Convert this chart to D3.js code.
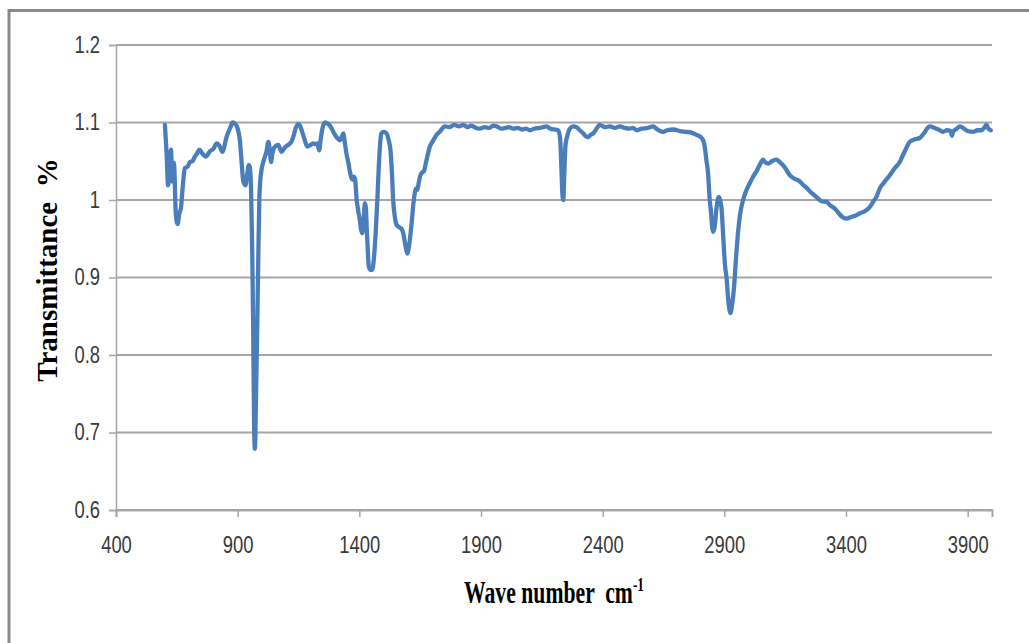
<!DOCTYPE html>
<html>
<head>
<meta charset="utf-8">
<script src="https://cdn.jsdelivr.net/npm/d3@7"></script>
<style>
  html, body { margin: 0; padding: 0; background: #fff; }
  svg { display: block; }
  .tick text { font-family: "Liberation Sans", Arial, sans-serif; font-size: 23px; fill: #3a3a3a; }
  .axis-title { white-space: pre; }
</style>
</head>
<body>
<svg id="chart" width="1029" height="643"></svg>
<script>
// FT-IR spectrum: wave number (cm-1) against transmittance
const waveNumber = [
  601, 608, 614, 620, 626, 631, 638, 646, 653, 660, 667, 675, 683, 694, 704, 714, 724, 733, 742, 755,
  769, 786, 800, 814, 825, 837, 855, 868, 879, 890, 898, 909, 916, 923, 932, 940, 946, 950, 955, 960,
  964, 968, 971, 975, 980, 985, 989, 995, 1008, 1018, 1026, 1032, 1037, 1043, 1049, 1058, 1067, 1080, 1090, 1098,
  1115, 1122, 1129, 1140, 1149, 1156, 1163, 1175, 1186, 1200, 1211, 1220, 1227, 1235, 1241, 1247, 1259, 1268, 1276, 1285,
  1293, 1300, 1309, 1320, 1328, 1334, 1340, 1347, 1355, 1361, 1368, 1372, 1377, 1382, 1389, 1396, 1402, 1407, 1412, 1418,
  1423, 1427, 1430, 1434, 1439, 1446, 1453, 1460, 1467, 1474, 1480, 1486, 1491, 1500, 1512, 1520, 1528, 1534, 1539, 1546,
  1553, 1563, 1573, 1582, 1590, 1597, 1604, 1610, 1615, 1622, 1628, 1633, 1638, 1644, 1649, 1656, 1665, 1675, 1690, 1702,
  1717, 1733, 1751, 1770, 1790, 1810, 1827, 1845, 1860, 1880, 1895, 1915, 1935, 1950, 1964, 1985, 2000, 2015, 2032, 2050,
  2068, 2085, 2101, 2120, 2140, 2155, 2169, 2185, 2200, 2217, 2225, 2230, 2235, 2238, 2242, 2247, 2254, 2265, 2279, 2292,
  2306, 2320, 2332, 2340, 2350, 2361, 2375, 2388, 2410, 2430, 2450, 2471, 2490, 2510, 2525, 2539, 2560, 2585, 2607, 2625,
  2648, 2665, 2690, 2717, 2740, 2765, 2785, 2800, 2813, 2820, 2826, 2833, 2840, 2845, 2850, 2854, 2860, 2868, 2874, 2878,
  2884, 2888, 2896, 2903, 2909, 2917, 2925, 2932, 2940, 2948, 2956, 2965, 2977, 2990, 3005, 3018, 3032, 3045, 3059, 3070,
  3080, 3095, 3114, 3128, 3141, 3155, 3169, 3185, 3210, 3225, 3237, 3255, 3278, 3292, 3305, 3319, 3335, 3354, 3370, 3385,
  3402, 3420, 3440, 3457, 3475, 3484, 3498, 3512, 3525, 3539, 3555, 3580, 3600, 3621, 3640, 3662, 3680, 3703, 3720, 3744,
  3765, 3780, 3799, 3815, 3830, 3835, 3840, 3855, 3868, 3885, 3900, 3922, 3940, 3956, 3970, 3977, 3985, 3995
];
const transmittance = [
  1.097, 1.060, 1.019, 1.040, 1.065, 1.024, 1.048, 0.981, 0.969, 0.982, 0.990, 1.020, 1.041, 1.043, 1.049, 1.050, 1.056, 1.060, 1.065, 1.060,
  1.056, 1.063, 1.066, 1.073, 1.070, 1.062, 1.082, 1.092, 1.100, 1.098, 1.094, 1.077, 1.050, 1.024, 1.019, 1.035, 1.045, 1.042, 1.015, 0.930,
  0.828, 0.700, 0.679, 0.740, 0.828, 0.930, 1.000, 1.032, 1.052, 1.062, 1.075, 1.065, 1.049, 1.060, 1.067, 1.070, 1.071, 1.062, 1.066, 1.069,
  1.073, 1.076, 1.082, 1.094, 1.098, 1.096, 1.090, 1.078, 1.069, 1.071, 1.073, 1.072, 1.073, 1.064, 1.078, 1.090, 1.100, 1.099, 1.097, 1.093,
  1.088, 1.084, 1.080, 1.077, 1.082, 1.086, 1.075, 1.060, 1.048, 1.037, 1.028, 1.026, 1.030, 1.028, 1.000, 0.985, 0.974, 0.962, 0.957, 0.975,
  0.996, 0.990, 0.966, 0.940, 0.914, 0.910, 0.910, 0.925, 0.957, 1.000, 1.043, 1.075, 1.086, 1.088, 1.086, 1.078, 1.064, 1.035, 1.000, 0.978,
  0.968, 0.965, 0.963, 0.955, 0.940, 0.931, 0.940, 0.955, 0.970, 0.995, 1.009, 1.015, 1.013, 1.022, 1.030, 1.035, 1.037, 1.050, 1.069, 1.076,
  1.084, 1.089, 1.095, 1.094, 1.097, 1.095, 1.097, 1.094, 1.096, 1.093, 1.092, 1.094, 1.093, 1.096, 1.095, 1.092, 1.093, 1.094, 1.092, 1.093,
  1.091, 1.092, 1.090, 1.092, 1.093, 1.094, 1.095, 1.092, 1.091, 1.090, 1.080, 1.045, 1.005, 1.000, 1.030, 1.070, 1.082, 1.092, 1.095, 1.094,
  1.090, 1.086, 1.082, 1.081, 1.084, 1.086, 1.092, 1.097, 1.094, 1.095, 1.093, 1.095, 1.093, 1.092, 1.093, 1.090, 1.092, 1.093, 1.095, 1.091,
  1.088, 1.090, 1.091, 1.089, 1.088, 1.087, 1.084, 1.082, 1.077, 1.068, 1.052, 1.035, 1.000, 0.985, 0.965, 0.959, 0.965, 0.990, 1.002, 1.004,
  0.998, 0.991, 0.950, 0.915, 0.900, 0.868, 0.854, 0.865, 0.888, 0.925, 0.957, 0.982, 1.000, 1.012, 1.022, 1.030, 1.037, 1.045, 1.052, 1.048,
  1.047, 1.050, 1.052, 1.049, 1.045, 1.039, 1.032, 1.028, 1.024, 1.019, 1.016, 1.010, 1.004, 1.000, 0.998, 0.998, 0.993, 0.989, 0.983, 0.978,
  0.976, 0.978, 0.980, 0.983, 0.985, 0.987, 0.991, 0.998, 1.004, 1.015, 1.022, 1.032, 1.041, 1.049, 1.062, 1.075, 1.078, 1.080, 1.086, 1.095,
  1.093, 1.091, 1.088, 1.090, 1.089, 1.083, 1.088, 1.092, 1.095, 1.092, 1.089, 1.088, 1.090, 1.090, 1.094, 1.097, 1.092, 1.090
];
const xTickValues = [400, 900, 1400, 1900, 2400, 2900, 3400, 3900];
const yTickValues = [0.6, 0.7, 0.8, 0.9, 1.0, 1.1, 1.2];

const svg = d3.select("#chart");
const plotLeft = 116, plotRight = 992, plotTop = 45, plotBottom = 510;

const x = d3.scaleLinear().domain([400, 4000]).range([plotLeft, plotRight]);
const y = d3.scaleLinear().domain([0.6, 1.2]).range([plotBottom, plotTop]);

// narrow the tick labels horizontally, keeping their height
function condense(sel, factor) {
  sel.each(function () {
    const w = this.getComputedTextLength();
    d3.select(this).attr("textLength", w * factor).attr("lengthAdjust", "spacingAndGlyphs");
  });
}

// outer frame (top and left edges)
svg.append("path")
  .attr("d", "M9,643 V10.5 H1029")
  .attr("fill", "none")
  .attr("stroke", "#8a8a8a")
  .attr("stroke-width", 3);

// horizontal gridlines
svg.append("g")
  .selectAll("line")
  .data(yTickValues)
  .join("line")
  .attr("x1", plotLeft).attr("x2", plotRight)
  .attr("y1", d => y(d)).attr("y2", d => y(d))
  .attr("stroke", "#a6a6a6")
  .attr("stroke-width", 2);

// y axis
const yAxis = svg.append("g")
  .attr("transform", `translate(${plotLeft},0)`)
  .call(d3.axisLeft(y).tickValues(yTickValues).tickSize(7).tickPadding(9)
    .tickFormat(d => d === 1 ? "1" : d3.format(".1f")(d)));
yAxis.select(".domain").attr("stroke", "#a6a6a6").attr("stroke-width", 1.5);
yAxis.selectAll(".tick line").attr("stroke", "#a6a6a6").attr("stroke-width", 1.5);
condense(yAxis.selectAll(".tick text"), 0.8);

// x axis
const xAxis = svg.append("g")
  .attr("transform", `translate(0,${plotBottom})`)
  .call(d3.axisBottom(x).tickValues(xTickValues).tickSize(7).tickPadding(20)
    .tickFormat(d3.format("d")));
xAxis.select(".domain").attr("stroke", "#a6a6a6").attr("stroke-width", 2);
xAxis.selectAll(".tick line").attr("stroke", "#a6a6a6").attr("stroke-width", 1.5);
condense(xAxis.selectAll(".tick text"), 0.8);

// spectrum line
const points = d3.zip(waveNumber, transmittance);
const line = d3.line()
  .x(d => x(d[0]))
  .y(d => y(d[1]))
  .curve(d3.curveMonotoneX);

svg.append("path")
  .datum(points)
  .attr("d", line)
  .attr("fill", "none")
  .attr("stroke", "#4a7ebb")
  .attr("stroke-width", 4.3)
  .attr("stroke-linejoin", "round")
  .attr("stroke-linecap", "round");

// axis titles
svg.append("text")
  .attr("class", "axis-title")
  .attr("transform", "translate(57,270) rotate(-90)")
  .attr("text-anchor", "middle")
  .attr("font-family", "'Liberation Serif', 'Times New Roman', serif")
  .attr("font-weight", "bold")
  .attr("font-size", 29)
  .attr("fill", "#000")
  .text("Transmittance  %");

const xTitle = svg.append("text")
  .attr("class", "axis-title")
  .attr("transform", "translate(554,603) scale(0.7,1)")
  .attr("text-anchor", "middle")
  .attr("font-family", "'Liberation Serif', 'Times New Roman', serif")
  .attr("font-weight", "bold")
  .attr("font-size", 31)
  .attr("fill", "#000");
xTitle.append("tspan").text("Wave number  cm");
xTitle.append("tspan").attr("font-size", 19).attr("dy", -12).text("-1");
</script>
</body>
</html>
